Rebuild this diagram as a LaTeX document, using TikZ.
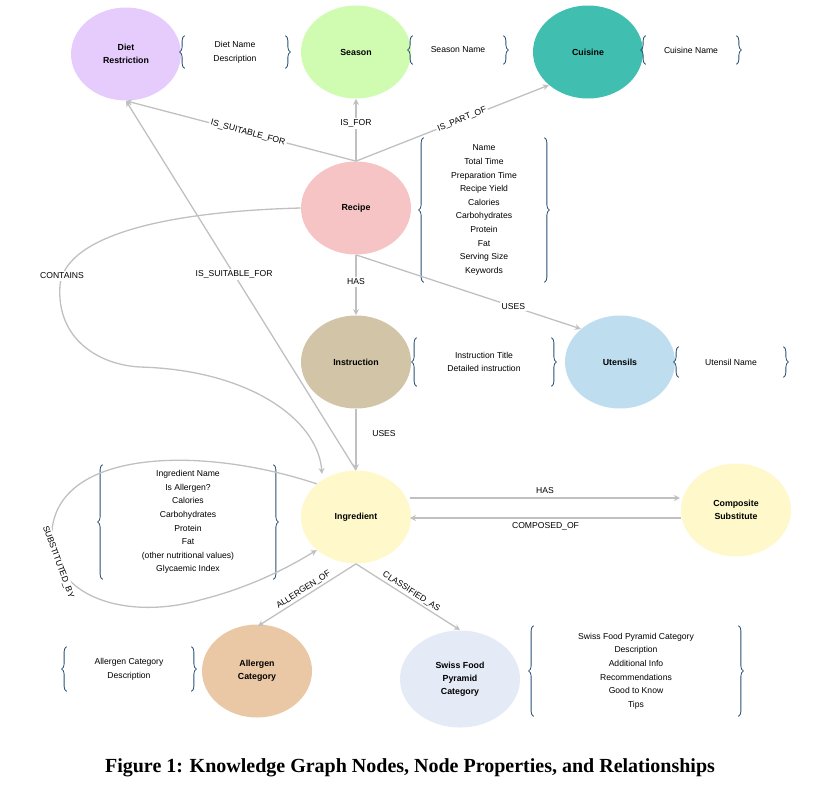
\documentclass[tikz,border=0pt]{standalone}
\usepackage{fontspec}
\setmainfont{Liberation Serif}
\newfontfamily\lsans{Liberation Sans}
\usetikzlibrary{arrows.meta,decorations.pathreplacing,shapes.geometric}
\definecolor{edgegray}{RGB}{192,192,192}
\definecolor{bracecol}{RGB}{40,80,115}
\tikzset{every picture/.style={line width=0.75pt}}
\tikzset{
  ent/.style={ellipse, minimum width=110pt, minimum height=93pt, inner sep=0pt, align=center, font=\lsans\fontsize{8.8}{13}\selectfont\bfseries},
  prop/.style={align=center, inner sep=0pt, font=\lsans\fontsize{8.6}{13.6}\selectfont},
  rel/.style={draw=edgegray, line width=1.3pt, -{Stealth[length=6pt,width=6pt]}},
  lbl/.style={fill=white, inner sep=1.5pt, font=\lsans\fontsize{8.6}{10}\selectfont},
  brc/.style={draw=bracecol, line width=0.8pt, decorate, decoration={brace, amplitude=5pt}}
}
\begin{document}
\begin{tikzpicture}[x=1pt,y=1pt,yscale=-1,xscale=1]
	\useasboundingbox (0,0) rectangle (840,804);
	
	%Entity nodes
	\node[ent, fill={rgb,255:red,230;green,204;blue,252}] (diet) at (126,54) {Diet\\Restriction};
	\node[ent, fill={rgb,255:red,208;green,252;blue,178}] (season) at (356,52) {Season};
	\node[ent, fill={rgb,255:red,64;green,190;blue,176}] (cuisine) at (588,52) {Cuisine};
	\node[ent, fill={rgb,255:red,246;green,196;blue,196}] (recipe) at (356,208) {Recipe};
	\node[ent, fill={rgb,255:red,210;green,196;blue,166}] (instr) at (356,362) {Instruction};
	\node[ent, fill={rgb,255:red,190;green,222;blue,240}] (utensil) at (620,362) {Utensils};
	\node[ent, fill={rgb,255:red,254;green,248;blue,202}] (ingr) at (356,517) {Ingredient};
	\node[ent, fill={rgb,255:red,254;green,248;blue,202}] (compo) at (736,510) {Composite\\Substitute};
	\node[ent, fill={rgb,255:red,234;green,200;blue,166}] (allerg) at (257,671) {Allergen\\Category};
	\node[ent, minimum width=120pt, minimum height=97pt, fill={rgb,255:red,228;green,234;blue,246}] (swiss) at (460,679) {Swiss Food\\Pyramid\\Category};
	
	%Property nodes
	\node[prop, minimum width=100pt, minimum height=32pt] (pdiet) at (235,52) {Diet Name\\Description};
	\node[prop, minimum width=90pt, minimum height=28pt] (pseason) at (458,50) {Season Name};
	\node[prop, minimum width=90pt, minimum height=28pt] (pcuisine) at (691,50) {Cuisine Name};
	\node[prop, minimum width=120pt, minimum height=144pt] (precipe) at (484,210) {Name\\Total Time\\Preparation Time\\Recipe Yield\\Calories\\Carbohydrates\\Protein\\Fat\\Serving Size\\Keywords};
	\node[prop, minimum width=134pt, minimum height=48pt] (pinstr) at (484,362) {Instruction Title\\Detailed instruction};
	\node[prop, minimum width=104pt, minimum height=30pt] (putensil) at (731,362) {Utensil Name};
	\node[prop, minimum width=170pt, minimum height=114pt] (pingr) at (188,522) {Ingredient Name\\Is Allergen?\\Calories\\Carbohydrates\\Protein\\Fat\\(other nutritional values)\\Glycaemic Index};
	\node[prop, minimum width=124pt, minimum height=44pt] (pallerg) at (129,669) {Allergen Category\\Description};
	\node[prop, minimum width=204pt, minimum height=90pt] (pswiss) at (636,671) {Swiss Food Pyramid Category\\Description\\Additional Info\\Recommendations\\Good to Know\\Tips};
	
	%Braces
	\foreach \p in {pdiet,pseason,pcuisine,precipe,pinstr,putensil,pingr,pallerg,pswiss}{
		\draw[brc] (\p.south west) -- (\p.north west);
		\draw[brc] (\p.north east) -- (\p.south east);
	}
	
	%Relationships
	\draw[rel] (recipe.north) -- node[lbl, rotate=-15, pos=0.47] {IS\_SUITABLE\_FOR} (diet.south);
	\draw[rel] (recipe.north) -- node[lbl, pos=0.6] {IS\_FOR} (season.south);
	\draw[rel] (recipe.north) -- node[lbl, rotate=22, pos=0.55] {IS\_PART\_OF} (cuisine.south west);
	\draw[rel] (recipe.south) -- node[lbl, pos=0.45] {HAS} (instr.north);
	\draw[rel] (recipe.south) -- node[lbl, pos=0.7] {USES} (utensil.north west);
	\draw[rel] (instr.south) -- node[lbl, pos=0.4, xshift=28pt] {USES} (ingr.north);
	\draw[rel] (recipe.west) .. controls (150,212) and (65,240) .. (60,285) .. controls (56,340) and (100,365) .. (140,367) .. controls (250,370) and (318,420) .. (322,474);
	\node[lbl] (lcontains) at (62,276) {CONTAINS};
	\draw[rel] (ingr.north) -- node[lbl, pos=0.53] {IS\_SUITABLE\_FOR} (diet.south);
	\draw[rel] (ingr.north west) .. controls (200,445) and (60,450) .. (52,530) .. controls (48,600) and (130,620) .. (200,600) .. controls (260,585) and (300,560) .. (ingr.south west);
	\node[lbl, rotate=-70] (lsubst) at (58,562) {SUBSTITUTED\_BY};
	\draw[rel] (410,498) -- node[lbl, above=2pt, fill=none] {HAS} (680,498);
	\draw[rel] (681,518) -- node[lbl, below=2pt, fill=none] {COMPOSED\_OF} (410,518);
	\draw[rel] (ingr.south) -- node[lbl, rotate=33, anchor=south, fill=none] {ALLERGEN\_OF} (258,626);
	\draw[rel] (ingr.south) -- node[lbl, rotate=-33, anchor=south, fill=none] {CLASSIFIED\_AS} (460,630);
	
	%Caption
	\node[font=\fontsize{20}{24}\selectfont\bfseries] (caption) at (410,768) {Figure 1: Knowledge Graph Nodes, Node Properties, and Relationships};
\end{tikzpicture}
\end{document}
